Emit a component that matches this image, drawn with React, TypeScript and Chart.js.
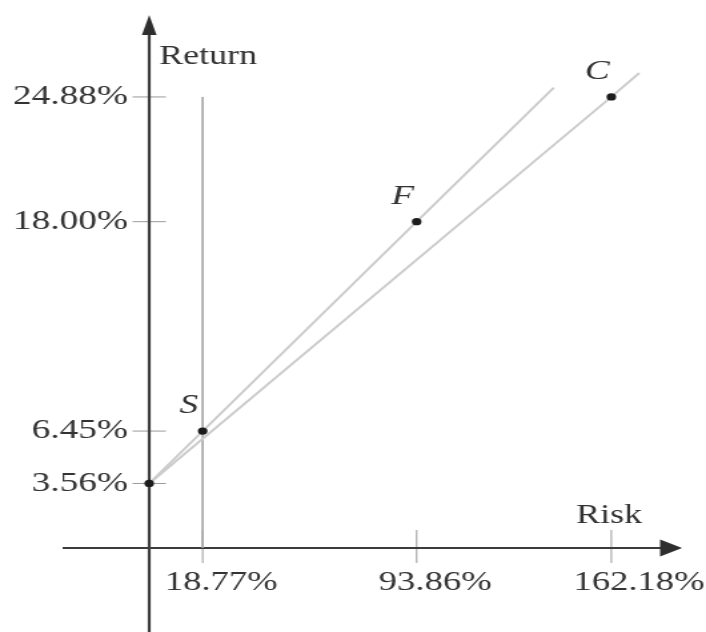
import { useEffect, useRef } from "react";
import { Chart, registerables } from "chart.js";

Chart.register(...registerables);

// Portfolio points: risk-free (on the Return axis), S, F, C
const pointNames = ["", "S", "F", "C"];
const riskValues = [0, 18.77, 93.86, 162.18];
const returnValues = [3.56, 6.45, 18.0, 24.88];

// Tick values shown on the axes
const xTickValues = [18.77, 93.86, 162.18];
const yTickValues = [3.56, 6.45, 18.0, 24.88];

// Upper line: from the risk-free rate through S and F
const upperLineRisk = [0, 18.77, 93.86, 142];
const upperLineReturn = [3.56, 6.45, 18.0, 25.4];

// Lower line: from the risk-free rate through C
const lowerLineRisk = [0, 162.18, 172];
const lowerLineReturn = [3.56, 24.88, 26.2];

// Vertical guide at S's risk
const guideRisk = [18.77, 18.77];
const guideReturn = [24.88, 0];

const xAxisTitle = "Risk";
const yAxisTitle = "Return";

const FONT = "'Liberation Serif', 'Times New Roman', serif";
const TEXT = "#333333";

const zip = (xs: number[], ys: number[]) => xs.map((x, i) => ({ x, y: ys[i] }));
const pct = (v: number) => v.toFixed(2) + "%";

const decorPlugin = {
  id: "decor",
  beforeDatasetsDraw(chart: any) {
    const { ctx, chartArea, scales } = chart;
    const xs = scales.x;
    const ys = scales.y;
    const px0 = xs.getPixelForValue(0);
    const py0 = ys.getPixelForValue(0);
    ctx.save();
    // tick marks
    ctx.strokeStyle = "#9a9a9a";
    ctx.lineWidth = 1;
    yTickValues.forEach((v) => {
      const y = ys.getPixelForValue(v);
      ctx.beginPath();
      ctx.moveTo(px0 - 12.5, y);
      ctx.lineTo(px0 + 12.5, y);
      ctx.stroke();
    });
    xTickValues.forEach((v) => {
      const x = xs.getPixelForValue(v);
      ctx.beginPath();
      ctx.moveTo(x, py0 - 18);
      ctx.lineTo(x, py0 + 15);
      ctx.stroke();
    });
    // axes
    ctx.strokeStyle = "#3c3c3c";
    ctx.fillStyle = "#2e2e2e";
    ctx.lineWidth = 2.2;
    const topTip = chartArea.top;
    const rightTip = chartArea.right;
    ctx.beginPath();
    ctx.moveTo(px0, chart.height);
    ctx.lineTo(px0, topTip + 18);
    ctx.stroke();
    ctx.beginPath();
    ctx.moveTo(47, py0);
    ctx.lineTo(rightTip - 15, py0);
    ctx.stroke();
    // arrow heads
    ctx.beginPath();
    ctx.moveTo(px0, topTip);
    ctx.lineTo(px0 - 5.5, topTip + 20);
    ctx.lineTo(px0 + 5.5, topTip + 20);
    ctx.closePath();
    ctx.fill();
    ctx.beginPath();
    ctx.moveTo(rightTip, py0);
    ctx.lineTo(rightTip - 16.5, py0 - 8.5);
    ctx.lineTo(rightTip - 16.5, py0 + 8.5);
    ctx.closePath();
    ctx.fill();
    ctx.restore();
  },
  afterDatasetsDraw(chart: any) {
    const { ctx, chartArea, scales } = chart;
    const px0 = scales.x.getPixelForValue(0);
    const py0 = scales.y.getPixelForValue(0);
    ctx.save();
    ctx.fillStyle = TEXT;
    ctx.font = `27px ${FONT}`;
    ctx.textBaseline = "middle";
    ctx.textAlign = "left";
    ctx.fillText(yAxisTitle, px0 + 7.5, chartArea.top + 42);
    ctx.textAlign = "right";
    ctx.fillText(xAxisTitle, chartArea.right - 30, py0 - 32);
    // point labels
    const meta = chart.getDatasetMeta(0);
    ctx.font = `italic 28px ${FONT}`;
    ctx.textAlign = "center";
    meta.data.forEach((el: any, i: number) => {
      const name = pointNames[i];
      if (!name) return;
      ctx.fillText(name, el.x - 10.5, el.y - 25);
    });
    ctx.restore();
  },
};

export default function App() {
  const ref = useRef<HTMLCanvasElement | null>(null);

  useEffect(() => {
    if (!ref.current) return;
    const chart = new Chart(ref.current, {
      type: "scatter",
      data: {
        datasets: [
          {
            label: "Portfolios",
            data: zip(riskValues, returnValues),
            showLine: false,
            pointRadius: 3.6,
            pointBackgroundColor: "#1c1c1c",
            pointBorderWidth: 0,
            clip: false,
          } as any,
          {
            label: "Line through S and F",
            data: zip(upperLineRisk, upperLineReturn),
            showLine: true,
            borderColor: "#cccccc",
            borderWidth: 2,
            pointRadius: 0,
            clip: false,
          },
          {
            label: "Line through C",
            data: zip(lowerLineRisk, lowerLineReturn),
            showLine: true,
            borderColor: "#cccccc",
            borderWidth: 2,
            pointRadius: 0,
            clip: false,
          },
          {
            label: "S risk",
            data: zip(guideRisk, guideReturn),
            showLine: true,
            borderColor: "#a9a9a9",
            borderWidth: 1,
            pointRadius: 0,
            clip: false,
          },
        ],
      },
      options: {
        animation: false,
        responsive: false,
        events: [],
        layout: { padding: { top: 15, right: 18, bottom: 0, left: 0 } },
        plugins: {
          legend: { display: false },
          tooltip: { enabled: false },
          title: { display: false },
        },
        scales: {
          x: {
            type: "linear",
            position: "bottom",
            min: 0,
            max: 187,
            grid: { display: false, drawTicks: false },
            border: { display: false },
            afterBuildTicks: (s: any) => {
              s.ticks = xTickValues.map((v) => ({ value: v }));
            },
            afterFit: (s: any) => {
              s.height = 84;
              s.paddingLeft = 0;
              s.paddingRight = 0;
              s.paddingTop = 0;
              s.paddingBottom = 0;
            },
            ticks: {
              autoSkip: false,
              maxRotation: 0,
              minRotation: 0,
              align: "start",
              labelOffset: -28.5,
              padding: 18,
              color: TEXT,
              font: { family: FONT, size: 27.5 },
              callback: (v: any) => pct(Number(v)),
            },
          },
          y: {
            type: "linear",
            position: "left",
            min: 0,
            max: 29.4,
            grid: { display: false, drawTicks: false },
            border: { display: false },
            afterBuildTicks: (s: any) => {
              s.ticks = yTickValues.map((v) => ({ value: v }));
            },
            afterFit: (s: any) => {
              s.width = 112;
              s.paddingLeft = 0;
              s.paddingRight = 0;
              s.paddingTop = 0;
              s.paddingBottom = 0;
            },
            ticks: {
              autoSkip: false,
              padding: 16,
              color: TEXT,
              font: { family: FONT, size: 28 },
              callback: (v: any) => pct(Number(v)),
            },
          },
        },
      } as any,
      plugins: [decorPlugin],
    });
    return () => chart.destroy();
  }, []);

  return (
    <div style={{ position: "fixed", left: 0, top: 0, width: 706, height: 632, background: "#fff" }}>
      <canvas
        ref={ref}
        width={530}
        height={632}
        style={{ width: "706px", height: "632px", display: "block" }}
      />
    </div>
  );
}
